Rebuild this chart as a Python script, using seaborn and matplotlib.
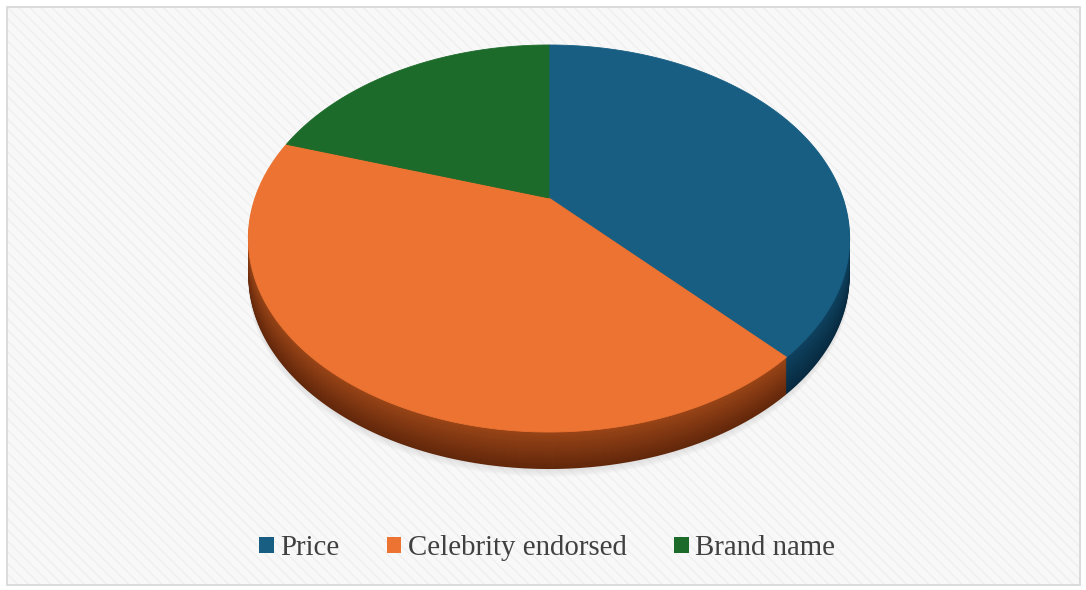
import numpy as np
import matplotlib
matplotlib.use("Agg")
import matplotlib.pyplot as plt
import seaborn as sns
from matplotlib.patches import Rectangle, Patch
from matplotlib.colors import to_rgb

# ---- data ----
categories = ["Price", "Celebrity endorsed", "Brand name"]
values = [38, 42, 20]
top_colors = ["#175e82", "#ec7332", "#1c6b2a"]
side_top = ["#0f4260", "#9a4517", "#124a1c"]
side_bot = ["#072a40", "#62270b", "#0a3312"]

sns.set_theme(style="white")
plt.rcParams["font.family"] = ["Liberation Serif", "DejaVu Serif"]
plt.rcParams["hatch.linewidth"] = 1.0

W, H = 1086, 590
fig = plt.figure(figsize=(W / 100, H / 100), dpi=100)
fig.patch.set_facecolor("white")

# background panel with subtle texture
bg = Rectangle((7 / W, 1 - 585 / H), (1080 - 7) / W, (585 - 7) / H,
               transform=fig.transFigure, facecolor="#f8f8f8",
               edgecolor="#efefef", linewidth=0, hatch="\\\\\\", zorder=-5)
fig.patches.append(bg)
frame = Rectangle((7 / W, 1 - 585 / H), (1080 - 7) / W, (585 - 7) / H,
                  transform=fig.transFigure, facecolor="none",
                  edgecolor="#d6d6d6", linewidth=1.2, zorder=-4)
fig.patches.append(frame)

ax = fig.add_axes([0, 0, 1, 1])
ax.patch.set_alpha(0)

wedges, _ = ax.pie(values, colors=top_colors, startangle=90,
                   counterclock=False, radius=1, center=(0, 0))
angles = [(w.theta1, w.theta2) for w in wedges]
for w in wedges:
    w.remove()

# perspective projection of the unit pie onto the canvas
CX, A, B, C, D = 549.0, 143.6, 198.0, -0.2093, 294.0


def project(px, py, dy=0.0):
    cy = -py
    den = 1 + C * cy
    return CX + D * px / den, (A * cy + B) / den + dy


def wedge_poly(t1, t2, dy=0.0, n=240):
    th = np.radians(np.linspace(t1, t2, n))
    px = np.concatenate([[0.0], np.cos(th), [0.0]])
    py = np.concatenate([[0.0], np.sin(th), [0.0]])
    return project(px, py, dy)


depth = 37
# soft shadow
for s in range(10, 0, -1):
    for (t1, t2) in angles:
        X, Y = wedge_poly(t1, t2, depth + s * 0.8)
        ax.fill(X, Y, color="#9a9a9a", alpha=0.025, lw=0, zorder=1)
# side walls
for d in range(depth, 0, -1):
    f = d / depth
    for i, (t1, t2) in enumerate(angles):
        c0, c1 = np.array(to_rgb(side_top[i])), np.array(to_rgb(side_bot[i]))
        col = c0 * (1 - f) + c1 * f
        X, Y = wedge_poly(t1, t2, d)
        ax.fill(X, Y, color=col, lw=0, zorder=2)
# top face
for i, (t1, t2) in enumerate(angles):
    X, Y = wedge_poly(t1, t2, 0)
    ax.fill(X, Y, color=top_colors[i], lw=0.6, edgecolor=top_colors[i], zorder=3)

ax.set_aspect("auto")
ax.set_xlim(0, W)
ax.set_ylim(H, 0)
ax.axis("off")

handles = [Patch(facecolor=c, edgecolor="none") for c in top_colors]
fig.legend(handles, categories, loc="center", ncol=3,
           bbox_to_anchor=(547 / W, 1 - 548 / H), frameon=False,
           fontsize=20.8, labelcolor="#404040", handlelength=0.5,
           handleheight=0.5, handletextpad=0.22, columnspacing=1.65)

fig.savefig("out.png", dpi=100, facecolor=fig.get_facecolor())
